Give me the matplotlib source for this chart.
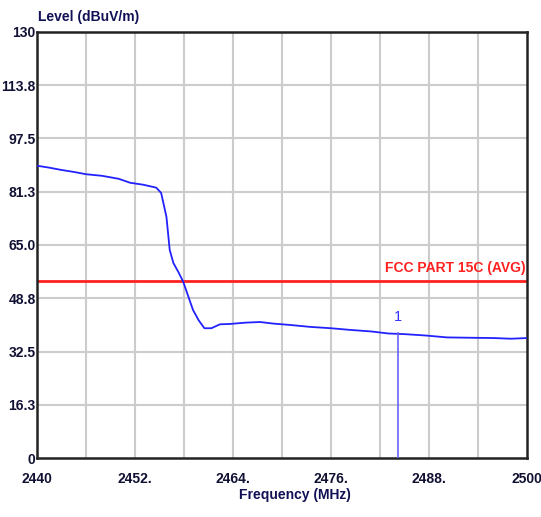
import matplotlib
matplotlib.use("Agg")
import matplotlib.pyplot as plt

# trace
freq = [2440.0, 2441.5, 2443.0, 2444.5, 2446.0, 2448.0, 2450.0, 2451.4, 2453.0, 2454.6,
        2455.2, 2455.85, 2456.25, 2456.7, 2457.3, 2457.9, 2458.5, 2459.1, 2459.8, 2460.5,
        2461.35, 2462.4, 2463.6, 2465.5, 2467.3, 2469.0, 2471.0, 2473.5, 2476.0, 2478.3,
        2481.0, 2483.0, 2485.0, 2487.5, 2490.2, 2493.0, 2496.0, 2498.0, 2500.0]
level = [89.2, 88.6, 87.9, 87.3, 86.6, 86.1, 85.2, 84.0, 83.4, 82.5,
         80.9, 73.6, 63.5, 59.5, 56.8, 53.8, 49.5, 45.2, 42.0, 39.6,
         39.6, 40.8, 40.9, 41.3, 41.5, 41.0, 40.6, 40.0, 39.6, 39.1,
         38.6, 38.0, 37.8, 37.4, 36.8, 36.7, 36.6, 36.4, 36.6]

limit_avg = 54.0
marker_freq = 2484.2
marker_level = 38.0

xticks = [2440, 2452, 2464, 2476, 2488, 2500]
xtick_labels = ["2440", "2452.", "2464.", "2476.", "2488.", "2500"]
yticks = [0, 16.25, 32.5, 48.75, 65.0, 81.25, 97.5, 113.75, 130]
ytick_labels = ["0", "16.3", "32.5", "48.8", "65.0", "81.3", "97.5", "113.8", "130"]

plt.rcParams['font.family'] = ['Liberation Sans', 'DejaVu Sans']

fig = plt.figure(figsize=(5.41, 5.17), dpi=100)
ax = fig.add_axes([37 / 541, 59 / 517, 490 / 541, 426 / 517])

ax.set_xlim(2440, 2500)
ax.set_ylim(0, 130)

# grid every 6 MHz, labels every 12
for f in range(2446, 2500, 6):
    ax.axvline(f, color="#cccccc", lw=1.5, zorder=0)
for v in yticks[1:-1]:
    ax.axhline(v, color="#cccccc", lw=1.5, zorder=0)

ax.axhline(limit_avg, color="#ff2020", lw=2, zorder=2)
ax.text(2499.8, limit_avg + 1.8, "FCC PART 15C (AVG)", color="#ff2020",
        ha="right", va="bottom", fontsize=10, fontweight="bold")

ax.plot(freq, level, color="#2222ff", lw=1.3, zorder=3)

ax.plot([marker_freq, marker_freq], [0, marker_level], color="#6666ff", lw=1.2, zorder=3)
ax.text(marker_freq, marker_level + 3, "1", color="#3333ff", ha="center",
        va="bottom", fontsize=10.5)

ax.set_xticks(xticks)
ax.set_xticklabels(xtick_labels)
ax.set_yticks(yticks)
ax.set_yticklabels(ytick_labels)
ax.tick_params(length=0, labelsize=10, colors="#111133")
ax.tick_params(axis="x", pad=10)
ax.tick_params(axis="y", pad=1)
for lab in ax.get_xticklabels() + ax.get_yticklabels():
    lab.set_fontweight("bold")

for sp in ax.spines.values():
    sp.set_linewidth(1.8)
    sp.set_color("#222222")

fig.text(38 / 541, 1 - 17 / 517, "Level (dBuV/m)", ha="left", va="center",
         fontsize=10, fontweight="bold", color="#111155")
fig.text(295 / 541, 1 - 495 / 517, "Frequency (MHz)", ha="center", va="center",
         fontsize=10, fontweight="bold", color="#111155")

fig.savefig("out.png", dpi=100)
